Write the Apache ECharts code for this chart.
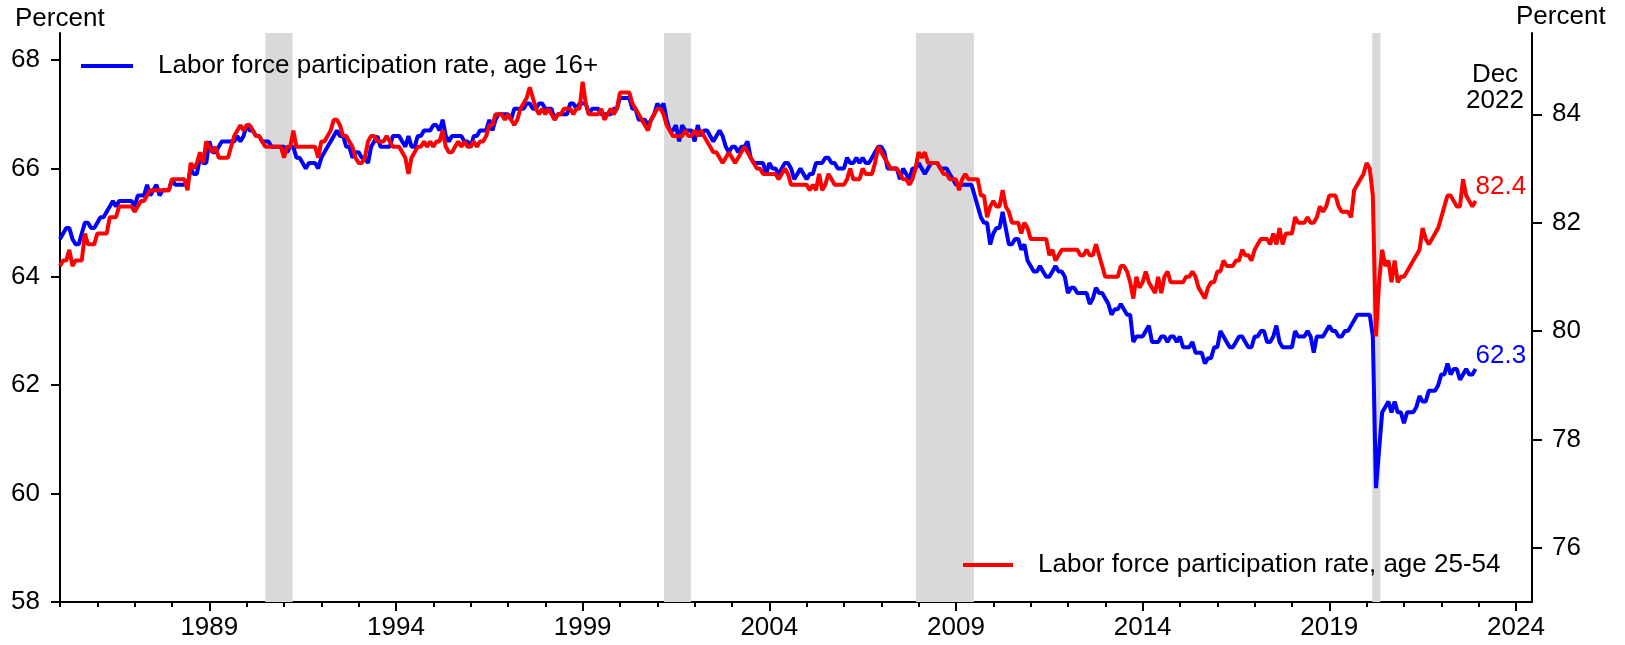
<!DOCTYPE html>
<html>
<head>
<meta charset="utf-8">
<script src="https://cdn.jsdelivr.net/npm/echarts@6/dist/echarts.min.js"></script>
<style>
html,body{margin:0;padding:0;background:#fff;}
#chart{width:1625px;height:645px;}
</style>
</head>
<body>
<div id="chart"></div>
<script>
// Monthly data, January 1985 through December 2022
const startYear = 1985;
const lfpr16 = [
64.7,64.8,64.9,64.9,64.7,64.6,64.6,64.8,65.0,65.0,64.9,64.9,
65.0,65.1,65.1,65.2,65.3,65.4,65.3,65.4,65.4,65.4,65.4,65.4,
65.3,65.5,65.5,65.5,65.7,65.5,65.6,65.7,65.5,65.6,65.6,65.6,
65.8,65.7,65.7,65.7,65.7,65.7,66.0,65.9,65.9,66.2,66.1,66.1,
66.5,66.3,66.3,66.4,66.5,66.5,66.5,66.5,66.5,66.6,66.5,66.6,
66.8,66.7,66.7,66.6,66.6,66.5,66.5,66.5,66.4,66.4,66.4,66.4,
66.4,66.3,66.4,66.4,66.2,66.2,66.1,66.0,66.1,66.1,66.1,66.0,
66.2,66.3,66.4,66.5,66.6,66.7,66.6,66.6,66.4,66.4,66.2,66.3,
66.3,66.2,66.2,66.1,66.4,66.5,66.6,66.4,66.4,66.4,66.4,66.6,
66.6,66.6,66.5,66.4,66.6,66.4,66.4,66.6,66.6,66.7,66.7,66.7,
66.8,66.8,66.7,66.9,66.6,66.5,66.6,66.6,66.6,66.6,66.5,66.5,
66.4,66.6,66.6,66.7,66.7,66.7,66.9,66.7,66.9,67.0,67.0,67.0,
67.0,66.9,67.1,67.1,67.1,67.1,67.2,67.2,67.1,67.1,67.2,67.2,
67.1,67.1,67.1,66.9,67.0,67.0,67.0,67.0,67.2,67.2,67.1,67.2,
67.2,67.2,67.0,67.1,67.1,67.1,67.0,67.0,67.0,67.0,67.1,67.1,
67.3,67.3,67.3,67.3,67.1,67.1,66.9,66.9,66.9,66.8,66.9,67.0,
67.2,67.1,67.2,66.9,66.7,66.7,66.8,66.5,66.8,66.7,66.7,66.7,
66.5,66.8,66.6,66.7,66.7,66.6,66.5,66.6,66.7,66.6,66.4,66.3,
66.4,66.4,66.3,66.4,66.4,66.5,66.2,66.1,66.1,66.1,66.1,65.9,
66.1,66.0,66.0,65.9,66.0,66.1,66.1,66.0,65.8,65.9,66.0,65.9,
65.8,65.9,65.9,66.1,66.1,66.1,66.2,66.2,66.1,66.1,66.0,66.0,
66.0,66.2,66.1,66.1,66.2,66.1,66.2,66.1,66.1,66.2,66.3,66.4,
66.4,66.3,66.0,66.0,66.0,66.0,65.8,66.0,65.9,65.8,66.0,66.0,
66.1,66.0,65.9,66.0,66.1,66.1,66.1,66.0,66.0,66.0,65.9,65.8,
65.7,65.7,65.7,65.7,65.7,65.7,65.5,65.3,65.1,65.0,65.0,64.6,
64.8,64.9,64.9,65.2,64.9,64.6,64.6,64.7,64.7,64.5,64.6,64.3,
64.2,64.1,64.1,64.2,64.1,64.0,64.0,64.1,64.2,64.1,64.1,64.0,
63.7,63.8,63.8,63.7,63.7,63.7,63.7,63.5,63.6,63.8,63.7,63.7,
63.6,63.5,63.3,63.4,63.4,63.5,63.4,63.3,63.3,62.8,62.9,62.9,
62.9,63.0,63.1,62.8,62.8,62.8,62.9,62.9,62.8,62.9,62.9,62.8,
62.9,62.7,62.7,62.7,62.8,62.6,62.6,62.6,62.4,62.5,62.5,62.7,
62.7,63.0,62.9,62.8,62.7,62.7,62.8,62.9,62.9,62.8,62.7,62.7,
62.9,62.9,63.0,63.0,62.8,62.8,62.9,63.1,62.8,62.7,62.7,62.7,
62.7,63.0,62.9,62.9,62.9,63.0,62.9,62.6,62.9,62.9,62.9,63.0,
63.1,63.0,63.0,62.9,62.9,63.0,63.0,63.1,63.2,63.3,63.3,63.3,
63.3,63.3,62.9,60.1,60.8,61.5,61.6,61.7,61.5,61.7,61.5,61.5,
61.3,61.5,61.5,61.5,61.6,61.8,61.7,61.7,61.9,61.9,61.9,62.0,
62.2,62.2,62.4,62.2,62.3,62.3,62.1,62.2,62.3,62.2,62.2,62.3
];
const lfpr2554 = [
81.2,81.3,81.3,81.5,81.2,81.3,81.3,81.3,81.8,81.6,81.6,81.6,
81.8,81.8,81.8,81.8,82.1,82.1,82.1,82.3,82.3,82.3,82.3,82.3,
82.2,82.3,82.4,82.4,82.5,82.6,82.6,82.6,82.6,82.6,82.6,82.6,
82.8,82.8,82.8,82.8,82.8,82.6,83.1,83.0,83.1,83.3,83.1,83.5,
83.4,83.3,83.4,83.2,83.2,83.2,83.2,83.4,83.6,83.7,83.8,83.7,
83.8,83.8,83.7,83.6,83.6,83.5,83.4,83.4,83.4,83.4,83.4,83.4,
83.2,83.4,83.4,83.7,83.4,83.4,83.4,83.4,83.4,83.4,83.4,83.2,
83.5,83.5,83.6,83.7,83.9,83.9,83.8,83.6,83.6,83.5,83.4,83.2,
83.1,83.1,83.2,83.5,83.6,83.6,83.5,83.5,83.5,83.6,83.5,83.4,
83.4,83.4,83.3,83.2,82.9,83.2,83.3,83.4,83.4,83.5,83.4,83.5,
83.4,83.5,83.5,83.7,83.4,83.3,83.3,83.4,83.5,83.4,83.5,83.4,
83.4,83.5,83.4,83.5,83.5,83.6,83.8,83.8,84.0,84.0,84.0,83.9,
84.0,83.9,83.8,83.9,84.1,84.2,84.3,84.5,84.3,84.1,84.0,84.1,
84.0,84.1,84.0,83.9,84.0,84.0,84.1,84.1,84.1,84.0,84.1,84.1,
84.6,84.2,84.0,84.0,84.0,84.0,84.1,83.9,84.0,84.1,84.0,84.1,
84.4,84.4,84.4,84.4,84.2,84.1,84.0,83.9,83.8,83.7,83.9,84.0,
84.1,84.1,84.0,83.8,83.7,83.6,83.6,83.6,83.6,83.7,83.6,83.6,
83.7,83.6,83.7,83.6,83.5,83.4,83.3,83.3,83.2,83.1,83.2,83.3,
83.2,83.1,83.2,83.3,83.4,83.3,83.2,83.1,83.0,83.0,82.9,82.9,
82.9,82.9,82.9,82.8,82.9,83.0,82.9,82.7,82.7,82.7,82.7,82.7,
82.7,82.6,82.7,82.6,82.9,82.6,82.7,82.9,82.8,82.7,82.7,82.7,
82.7,82.8,83.0,82.8,82.8,82.8,83.0,82.9,82.9,82.9,83.1,83.4,
83.3,83.2,83.1,83.0,83.0,83.0,82.9,82.8,82.8,82.7,82.8,83.0,
83.3,83.2,83.3,83.1,83.1,83.1,83.1,83.0,82.9,82.9,82.8,82.8,
82.8,82.6,82.8,82.9,82.8,82.8,82.8,82.8,82.5,82.5,82.1,82.3,
82.4,82.3,82.3,82.6,82.3,82.2,82.0,82.0,82.0,81.8,82.0,81.9,
81.7,81.7,81.7,81.7,81.7,81.7,81.4,81.5,81.3,81.4,81.5,81.5,
81.5,81.5,81.5,81.5,81.4,81.4,81.5,81.4,81.4,81.6,81.4,81.2,
81.0,81.0,81.0,81.0,81.0,81.2,81.2,81.1,80.9,80.6,81.0,80.8,
80.9,81.1,80.9,80.8,80.7,81.0,80.7,81.0,81.1,80.9,80.9,80.9,
80.9,80.9,81.0,81.0,81.1,81.0,80.8,80.7,80.6,80.8,80.9,80.9,
81.1,81.1,81.3,81.2,81.2,81.2,81.3,81.3,81.5,81.4,81.4,81.3,
81.5,81.6,81.7,81.7,81.7,81.6,81.8,81.6,81.9,81.6,81.8,81.8,
81.8,82.1,82.0,82.0,82.0,82.1,82.0,82.0,82.1,82.3,82.2,82.3,
82.5,82.5,82.5,82.3,82.2,82.2,82.2,82.1,82.6,82.7,82.8,82.9,
83.1,83.0,82.5,79.9,80.9,81.5,81.2,81.3,80.9,81.3,80.9,81.0,
81.0,81.1,81.2,81.3,81.4,81.5,81.9,81.7,81.6,81.7,81.8,81.9,
82.1,82.3,82.5,82.5,82.4,82.3,82.3,82.8,82.5,82.4,82.3,82.4
];
// NBER recessions (decimal years)
const recessions = [[1990.5, 1991.23], [2001.18, 2001.9], [2007.93, 2009.48], [2020.15, 2020.37]];
const xTickYears = [];
for (let y = 1985; y <= 2024; y++) xTickYears.push(y);
const xLabelYears = [1989, 1994, 1999, 2004, 2009, 2014, 2019, 2024];
const leftTicks = [58, 60, 62, 64, 66, 68];
const rightTicks = [76, 78, 80, 82, 84];
const seriesNames = ['Labor force participation rate, age 16+', 'Labor force participation rate, age 25-54'];
const endNote = 'Dec\n2022';

const toPairs = arr => arr.map((v, i) => [startYear + i / 12, v]);

const FONT = "'Liberation Sans', Arial, sans-serif";
const FS = 26;
const chart = echarts.init(document.getElementById('chart'), null, {renderer: 'canvas'});

const axisLineStyle = {color: '#000', width: 2};
const tickStyle = {color: '#000', width: 2};

chart.setOption({
  animation: false,
  backgroundColor: '#fff',
  grid: {left: 60, right: 93, top: 33, bottom: 43, containLabel: false},
  xAxis: [
    {
      type: 'value', min: 1985, max: 2024.43,
      axisLine: {show: true, onZero: false, lineStyle: axisLineStyle},
      splitLine: {show: false},
      axisTick: {show: true, customValues: xTickYears, length: 5, lineStyle: tickStyle},
      axisLabel: {customValues: xLabelYears, formatter: v => String(v), color: '#000', fontSize: FS, fontFamily: FONT, margin: 13}
    },
    {
      type: 'value', min: 1985, max: 2024.43, position: 'bottom',
      axisLine: {show: false},
      splitLine: {show: false},
      axisTick: {show: true, customValues: xLabelYears, length: 9, lineStyle: tickStyle},
      axisLabel: {show: false}
    }
  ],
  yAxis: [
    {
      type: 'value', min: 58, max: 68.5, position: 'left',
      axisLine: {show: true, onZero: false, lineStyle: axisLineStyle},
      splitLine: {show: false},
      axisTick: {show: true, customValues: leftTicks, length: 9, lineStyle: tickStyle},
      axisLabel: {customValues: leftTicks, color: '#000', fontSize: FS, fontFamily: FONT, margin: 20}
    },
    {
      type: 'value', min: 75, max: 85.5, position: 'right',
      axisLine: {show: true, onZero: false, lineStyle: axisLineStyle},
      splitLine: {show: false},
      axisTick: {show: true, customValues: rightTicks, length: 10, lineStyle: tickStyle},
      axisLabel: {customValues: rightTicks, color: '#000', fontSize: FS, fontFamily: FONT, margin: 20}
    }
  ],
  legend: [
    {
      data: [seriesNames[0]], left: 81, top: 53, padding: 0,
      icon: 'rect', itemWidth: 52, itemHeight: 4, selectedMode: false,
      textStyle: {color: '#000', fontSize: FS, fontFamily: FONT, padding: [0, 0, 0, 20]}
    },
    {
      data: [seriesNames[1]], left: 963, top: 552, padding: 0,
      icon: 'rect', itemWidth: 50, itemHeight: 4, selectedMode: false,
      textStyle: {color: '#000', fontSize: FS, fontFamily: FONT, padding: [0, 0, 0, 20]}
    }
  ],
  graphic: [
    {type: 'text', left: 15, top: 6, style: {text: 'Percent', fill: '#000', font: FS + "px 'Liberation Sans', Arial, sans-serif"}},
    {type: 'text', left: 1516, top: 4, style: {text: 'Percent', fill: '#000', font: FS + "px 'Liberation Sans', Arial, sans-serif"}},
    {type: 'text', x: 1495, y: 62, style: {text: endNote, fill: '#000', align: 'center', verticalAlign: 'top', lineHeight: 26, font: FS + "px 'Liberation Sans', Arial, sans-serif"}}
  ],
  series: [
    {
      name: seriesNames[0], type: 'line', xAxisIndex: 0, yAxisIndex: 0,
      data: toPairs(lfpr16), showSymbol: false, symbol: 'none',
      lineStyle: {color: '#0000ff', width: 4}, itemStyle: {color: '#0000ff'},
      z: 3,
      endLabel: {show: true, formatter: p => p.value[1].toFixed(1), color: '#0000ff', fontSize: FS, fontFamily: FONT, distance: 0, offset: [0, -13]},
      markArea: {
        silent: true,
        itemStyle: {color: '#d9d9d9'},
        data: recessions.map(r => [{xAxis: r[0]}, {xAxis: r[1]}])
      }
    },
    {
      name: seriesNames[1], type: 'line', xAxisIndex: 0, yAxisIndex: 1,
      data: toPairs(lfpr2554), showSymbol: false, symbol: 'none',
      lineStyle: {color: '#ff0000', width: 4}, itemStyle: {color: '#ff0000'},
      z: 4,
      endLabel: {show: true, formatter: p => p.value[1].toFixed(1), color: '#ff0000', fontSize: FS, fontFamily: FONT, distance: 0, offset: [0, -14]}
    }
  ]
});
</script>
</body>
</html>
